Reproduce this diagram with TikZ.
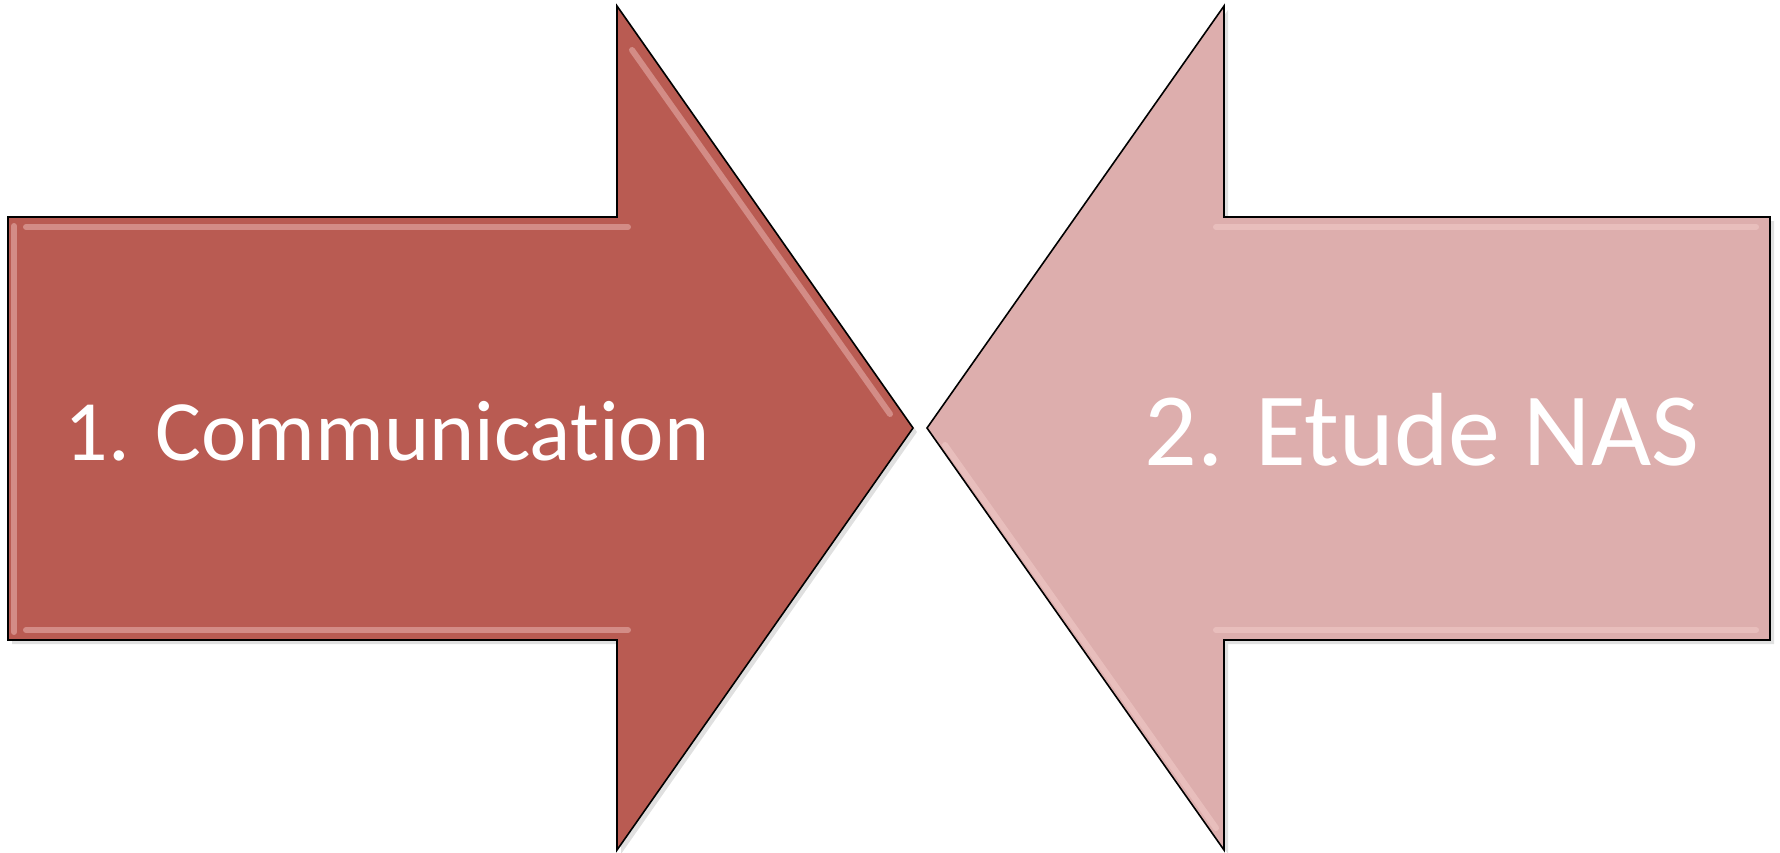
\documentclass[tikz,border=0pt]{standalone}
\usepackage{fontspec}
\setmainfont{Carlito}[Ligatures={NoCommon,NoRare,NoContextual}]
\usepackage{xcolor}
\definecolor{brickred}{RGB}{185,91,82}
\definecolor{palerose}{RGB}{221,174,173}
\definecolor{bevellight}{RGB}{250,215,212}
\tikzset{%
    arrowshape/.style={draw=black,line width=1.6pt,line join=miter},
    bevel/.style={draw=bevellight,line width=6pt,opacity=0.4,line cap=round},
    steplabel/.style={text=white,inner sep=0pt}
}

\begin{document}
\begin{tikzpicture}[x=1pt,y=-1pt]
\useasboundingbox (0,0) rectangle (1780,852);
	\def\leftshape{(8,217) -- (617,217) -- (617,6) -- (913,428) -- (617,850) -- (617,640) -- (8,640) -- cycle};
	\def\rightshape{(927,428) -- (1224,6) -- (1224,217) -- (1770,217) -- (1770,640) -- (1224,640) -- (1224,850) -- cycle};
% soft shadows
\fill[black,opacity=0.12] (12,221) -- (621,221) -- (621,10) -- (917,432) -- (621,854) -- (621,644) -- (12,644) -- cycle;
\fill[black,opacity=0.12] (931,432) -- (1228,10) -- (1228,221) -- (1774,221) -- (1774,644) -- (1228,644) -- (1228,854) -- cycle;
\filldraw[fill=brickred,arrowshape] \leftshape;
\filldraw[fill=palerose,arrowshape] \rightshape;
% bevel highlights
\draw[bevel] (14,632) -- (14,226);
\draw[bevel] (26,227) -- (628,227);
\draw[bevel] (26,630) -- (628,630);
\draw[bevel] (632,50) -- (890,414);
\draw[bevel] (945,445) -- (1216,828);
\draw[bevel] (1216,227) -- (1756,227);
\draw[bevel] (1216,630) -- (1756,630);
\node[steplabel,anchor=base] (communication) at (387,460) {\fontsize{86}{95}\selectfont 1. Communication};
\node[steplabel,anchor=base] (etudenas) at (1422,465) {\fontsize{104}{115}\selectfont 2. Etude NAS};
\end{tikzpicture}
\end{document}
